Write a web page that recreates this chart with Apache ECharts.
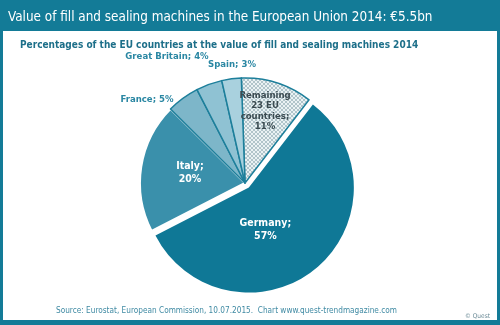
<!DOCTYPE html>
<html>
<head>
<meta charset="utf-8">
<script src="https://cdn.jsdelivr.net/npm/echarts@6/dist/echarts.min.js"></script>
<style>html,body{margin:0;padding:0;background:#fff}#c{width:500px;height:325px}</style>
</head>
<body>
<div id="c"></div>
<script>
// Share of EU countries in the value of fill and sealing machines, 2014
var countries = ['Remaining\n23 EU\ncountries', 'Germany', 'Italy', 'France', 'Great Britain', 'Spain'];
var shares = [11, 57, 20, 5, 4, 3];
var sliceColors = ['hatch', '#0f7896', '#3a90ab', '#7db6c9', '#8fc2d3', '#a9d1de'];

var TEAL = '#137b97';
var CX = 245, CY = 183;
// label anchor offsets from the pie centre (the exploded slice keeps its own label)
var labelOffsets = [[20, -72], null, [-55, -10], [-98, -83], [-78, -126], [-13, -118]];

// light crosshatch fill for the "remaining countries" slice
function hatchPattern() {
  var c = document.createElement('canvas');
  c.width = 4; c.height = 4;
  var g = c.getContext('2d');
  g.fillStyle = '#eaf2f4';
  g.fillRect(0, 0, 4, 4);
  g.fillStyle = '#b0c4ca';
  // two diagonal strokes crossing each other
  for (var k = 0; k < 4; k++) {
    g.fillRect(k, k, 1, 1);
    g.fillRect(3 - k, k, 1, 1);
  }
  return c;
}

var data = countries.map(function (name, i) {
  var item = { name: name, value: shares[i] };
  var col = sliceColors[i] === 'hatch' ? { image: hatchPattern(), repeat: 'repeat' } : sliceColors[i];
  item.itemStyle = { color: col, borderColor: '#1d7f9b', borderWidth: 1.5 };
  if (name === 'Germany') {
    item.selected = true;
    item.itemStyle.borderWidth = 0;
  }
  if (name === 'Italy') {
    item.itemStyle.borderColor = '#ffffff';
    item.itemStyle.borderWidth = 2;
  }
  var inside = (name === 'Germany' || name === 'Italy' || i === 0);
  item.label = inside
    ? { position: 'inner', color: i === 0 ? '#3a4a50' : '#ffffff', fontSize: i === 0 ? 9.5 : 10.5, lineHeight: i === 0 ? 10.5 : 13 }
    : { position: 'outside', color: '#2a87a3', fontSize: 9.5 };
  if (name === 'Germany') {
    item.label.offset = [-19, 0];
    item.select = { label: { offset: [-19, 0] } };
  }
  item.labelLine = { show: false };
  return item;
});

var chart = echarts.init(document.getElementById('c'));
chart.setOption({
  backgroundColor: TEAL,
  animation: false,
  graphic: [
    { type: 'rect', shape: { x: 3, y: 31, width: 494, height: 289 }, style: { fill: '#ffffff' }, silent: true },
    { type: 'text', left: 56, top: 307, style: { text: 'Source: Eurostat, European Commission, 10.07.2015.  Chart www.quest-trendmagazine.com', fill: '#3f8aa3', font: '8.2px "DejaVu Sans Condensed"' } },
    { type: 'text', right: 10, top: 313, style: { text: '\u00a9 Quest', fill: '#6a8a96', font: '6.5px "DejaVu Sans Condensed"' } }
  ],
  title: [
    { text: 'Value of fill and sealing machines in the European Union 2014: \u20ac5.5bn', left: 3, top: 6,
      textStyle: { color: '#ffffff', fontSize: 13.4, fontWeight: 'normal', fontFamily: 'DejaVu Sans Condensed' } },
    { text: 'Percentages of the EU countries at the value of fill and sealing machines 2014', left: 15, top: 35,
      textStyle: { color: '#1d6f89', fontSize: 10, fontWeight: 'bold', fontFamily: 'DejaVu Sans Condensed' } }
  ],
  series: [{
    type: 'pie',
    center: [CX, CY],
    radius: 105,
    startAngle: 92,
    clockwise: true,
    selectedMode: 'single',
    selectedOffset: 6,
    avoidLabelOverlap: false,
    label: {
      formatter: function (p) {
        var sep = (p.dataIndex <= 2) ? '\n' : ' ';
        return p.name + ';' + sep + p.value + '%';
      },
      fontFamily: 'DejaVu Sans Condensed',
      fontWeight: 'bold'
    },
    labelLayout: function (p) {
      var o = labelOffsets[p.dataIndex];
      if (!o) { return {}; }
      return { x: CX + o[0], y: CY + o[1], align: 'center', verticalAlign: 'middle', hideOverlap: false, moveOverlap: null };
    },
    data: data
  }]
});
</script>
</body>
</html>
